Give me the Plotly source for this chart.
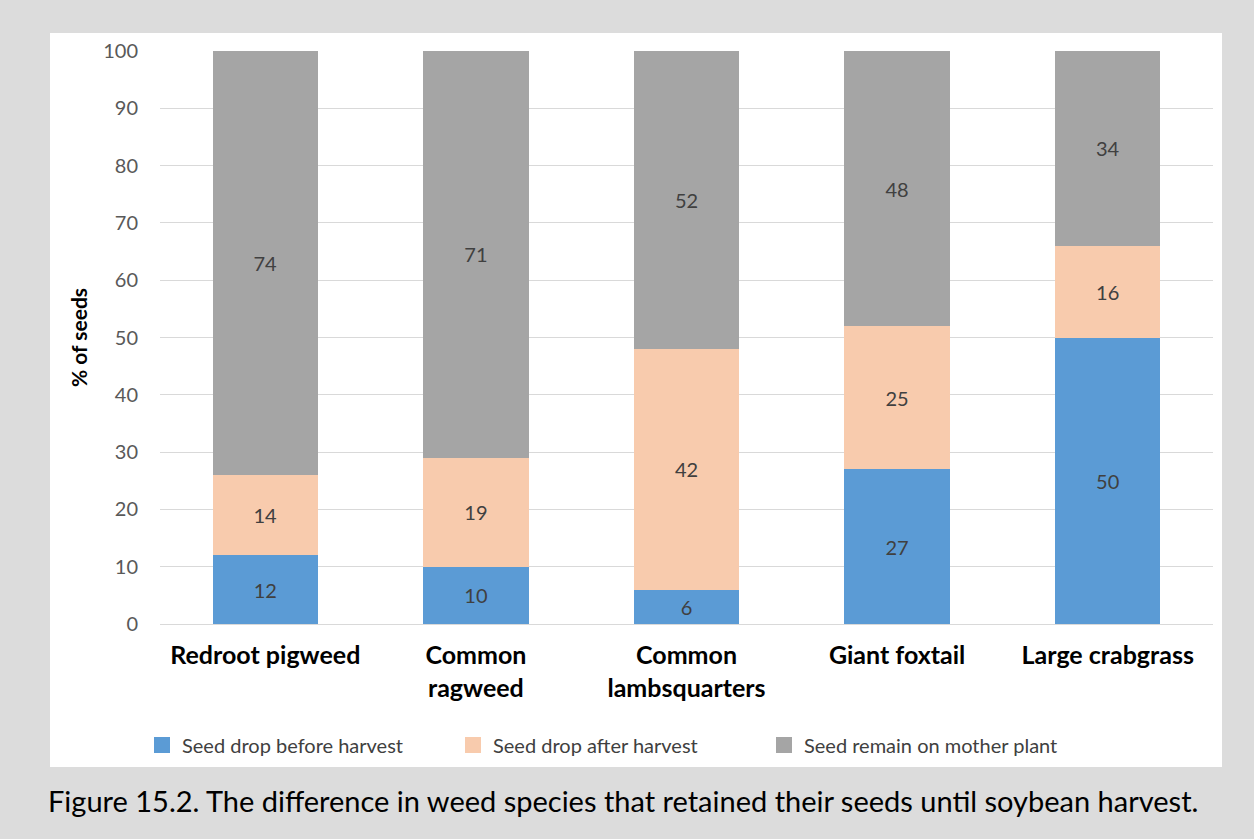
import plotly.graph_objects as go

species = ['Redroot pigweed', 'Common<br>ragweed', 'Common<br>lambsquarters',
           'Giant foxtail', 'Large crabgrass']
drop_before = [12, 10, 6, 27, 50]
drop_after = [14, 19, 42, 25, 16]
remain = [74, 71, 52, 48, 34]
y_ticks = [0, 10, 20, 30, 40, 50, 60, 70, 80, 90, 100]

W, H = 1254, 839
L, R, T, B = 160, 41, 51, 215
PW, PH = W - L - R, H - T - B
font_family = 'Lato, "Open Sans", sans-serif'


def px_x(x):
    return (x - L) / PW


def px_y(y):
    return (H - B - y) / PH


fig = go.Figure()
series = [
    ('Seed drop before harvest', drop_before, '#5b9bd5'),
    ('Seed drop after harvest', drop_after, '#f8cbad'),
    ('Seed remain on mother plant', remain, '#a5a5a5'),
]
for name, vals, color in series:
    fig.add_trace(go.Bar(
        x=species, y=vals, name=name, showlegend=False,
        marker=dict(color=color, line=dict(width=0)),
        text=vals, textposition='inside', insidetextanchor='middle',
        textfont=dict(color='#404040', size=20, family=font_family),
        textangle=0,
    ))
    # legend entry with a bigger square
    fig.add_trace(go.Scatter(
        x=[None], y=[None], name=name, mode='markers',
        marker=dict(symbol='square', size=20, color=color),
    ))

# white panel behind the chart
fig.add_shape(type='rect', xref='paper', yref='paper',
              x0=px_x(50), x1=px_x(1222), y0=px_y(767), y1=px_y(33),
              fillcolor='white', line=dict(width=0), layer='below')

fig.update_layout(
    width=W, height=H,
    paper_bgcolor='#dcdcdc', plot_bgcolor='white',
    barmode='stack', bargap=0.5,
    margin=dict(l=L, r=R, t=T, b=B, autoexpand=False),
    font=dict(family=font_family, color='#595959', size=17),
    showlegend=True,
    legend=dict(orientation='h', x=px_x(142), y=px_y(745), xanchor='left', yanchor='middle',
                font=dict(size=20, color='#404040'),
                entrywidth=266, entrywidthmode='pixels',
                itemsizing='trace', traceorder='normal',
                bgcolor='rgba(0,0,0,0)'),
    yaxis=dict(range=[0, 100], tickvals=y_ticks, showgrid=True,
               gridcolor='#d9d9d9', gridwidth=1, zeroline=False,
               ticks='', tickfont=dict(size=20, color='#595959'),
               ticklabelstandoff=21,
               title=dict(text='<b>% of seeds</b>', font=dict(size=21, color='#000000'),
                          standoff=9)),
    xaxis=dict(showline=True, linecolor='#d9d9d9', ticks='',
               tickfont=dict(size=25, color='#000000'),
               tickprefix='<b>', ticksuffix='</b>', ticklabelstandoff=9),
)

fig.add_annotation(text='Figure 15.2. The difference in weed species that retained their seeds until soybean harvest.',
                   xref='paper', yref='paper', showarrow=False,
                   x=px_x(46), xanchor='left',
                   y=px_y(800), yanchor='middle',
                   font=dict(size=29, color='#000000', family=font_family))

fig.write_html('out.html', config={'displayModeBar': False},
               post_script="document.body.style.margin='0';")
